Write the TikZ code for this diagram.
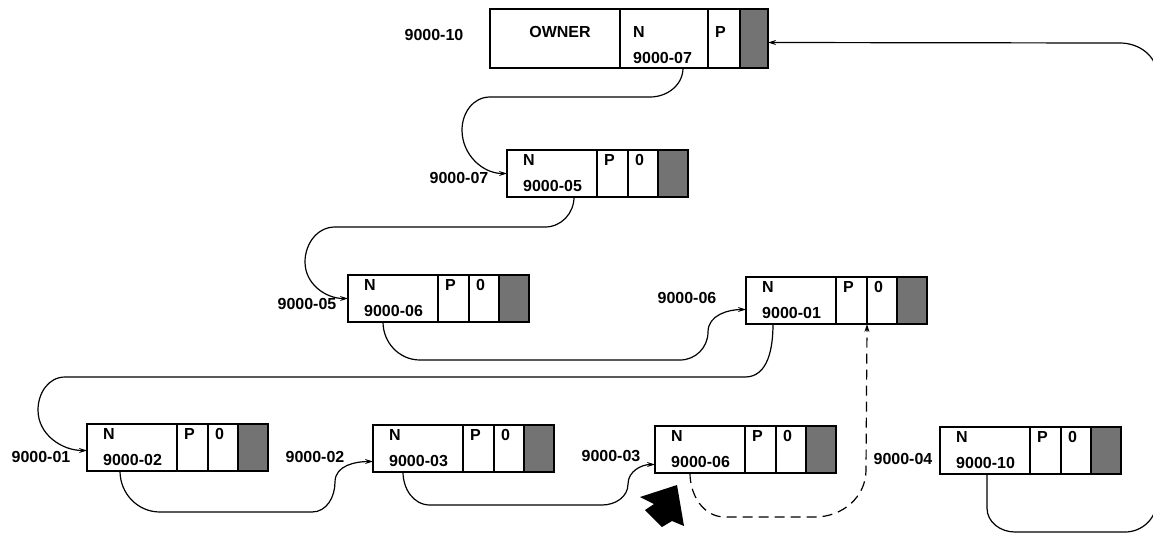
\documentclass[tikz,border=0pt]{standalone}
\usepackage{fontspec}
\setmainfont{Liberation Sans}
\usetikzlibrary{positioning,arrows.meta}

\tikzset{
  cell/.style={draw, line width=1.2pt, minimum height=47pt, inner sep=0pt, outer sep=0pt},
  ncell/.style={cell, minimum width=90pt, anchor=north west},
  pcell/.style={cell, minimum width=31pt, label={[celltext]north west:P}},
  ocell/.style={cell, minimum width=30pt, label={[celltext]north west:0}},
  scell/.style={cell, minimum width=30pt, fill=black!55},
  celltext/.style={anchor=north west, inner sep=0pt, xshift=7pt, yshift=-4pt, align=left},
  ntext/.style={celltext, xshift=9pt},
  addr/.style={inner sep=0pt},
  link/.style={line width=1.2pt, -{Stealth[length=8pt,width=5pt]}},
}

\begin{document}
\begin{tikzpicture}[x=1pt,y=-1pt,font=\fontsize{16}{26}\selectfont\bfseries]
    \useasboundingbox (0,0) rectangle (1153,539);
    \clip (0,0) rectangle (1153,539);

    % owner record
    \node[cell, minimum width=130pt, minimum height=59pt, anchor=north west,
          label={[anchor=north, inner sep=0pt, xshift=5pt, yshift=-17pt]north:OWNER}] (own) at (490,9) {};
    \node[cell, minimum width=88pt, minimum height=59pt, right=0pt of own,
          label={[celltext, xshift=6pt, yshift=-13pt]north west:{N\\9000-07}}] (r0n) {};
    \node[cell, minimum width=32pt, minimum height=59pt, right=0pt of r0n,
          label={[celltext, yshift=-13pt]north west:P}] (r0p) {};
    \node[scell, minimum width=28pt, minimum height=59pt, right=0pt of r0p] (r0s) {};

    % member records
    \node[ncell, label={[ntext]north west:{N\\9000-05}}] (r1n) at (507,150) {};
    \node[pcell, right=0pt of r1n] (r1p) {};
    \node[ocell, right=0pt of r1p] (r1o) {};
    \node[scell, right=0pt of r1o] (r1s) {};

    \node[ncell, label={[ntext]north west:{N\\9000-06}}] (r2n) at (348,275) {};
    \node[pcell, right=0pt of r2n] (r2p) {};
    \node[ocell, right=0pt of r2p] (r2o) {};
    \node[scell, right=0pt of r2o] (r2s) {};

    \node[ncell, label={[ntext]north west:{N\\9000-01}}] (r3n) at (746,277) {};
    \node[pcell, right=0pt of r3n] (r3p) {};
    \node[ocell, right=0pt of r3p] (r3o) {};
    \node[scell, right=0pt of r3o] (r3s) {};

    \node[ncell, label={[ntext]north west:{N\\9000-02}}] (r4n) at (87,424) {};
    \node[pcell, right=0pt of r4n] (r4p) {};
    \node[ocell, right=0pt of r4p] (r4o) {};
    \node[scell, right=0pt of r4o] (r4s) {};

    \node[ncell, label={[ntext]north west:{N\\9000-03}}] (r5n) at (373,425) {};
    \node[pcell, right=0pt of r5n] (r5p) {};
    \node[ocell, right=0pt of r5p] (r5o) {};
    \node[scell, right=0pt of r5o] (r5s) {};

    \node[ncell, label={[ntext]north west:{N\\9000-06}}] (r6n) at (655,426) {};
    \node[pcell, right=0pt of r6n] (r6p) {};
    \node[ocell, right=0pt of r6p] (r6o) {};
    \node[scell, right=0pt of r6o] (r6s) {};

    \node[ncell, label={[ntext]north west:{N\\9000-10}}] (r7n) at (940,427) {};
    \node[pcell, right=0pt of r7n] (r7p) {};
    \node[ocell, right=0pt of r7p] (r7o) {};
    \node[scell, right=0pt of r7o] (r7s) {};

    % db keys
    \node[addr] (k0) at (434,35) {9000-10};
    \node[addr] (k1) at (459,178) {9000-07};
    \node[addr] (k2) at (307,304) {9000-05};
    \node[addr] (k3) at (687,298) {9000-06};
    \node[addr] (k4) at (41,457) {9000-01};
    \node[addr] (k5) at (315,457) {9000-02};
    \node[addr] (k6) at (611,456) {9000-03};
    \node[addr] (k7) at (903,459) {9000-04};

    % next pointers
    \draw[link] ([xshift=19pt]r0n.south) to[out=-90,in=0] (650,97) -- (490,97)
        to[out=180,in=90] (462,130) to[out=-90,in=180] (r1n.west);
    \draw[link] ([xshift=22pt]r1n.south) to[out=-90,in=0] (545,227) -- (335,227)
        to[out=180,in=90] (305,262) to[out=-90,in=180] (r2n.west);
    \draw[link] ([xshift=-10pt]r2n.south) to[out=-90,in=180] (420,360) -- (680,360)
        to[out=0,in=-90] (708,332) to[out=90,in=180] ([yshift=-9pt]r3n.west);
    \draw[link] ([xshift=-18pt]r3n.south) to[out=-90,in=0] (745,377) -- (65,377)
        to[out=180,in=90] (38,410) to[out=-90,in=180] ([yshift=-3pt]r4n.west);
    \draw[link] ([xshift=-12pt]r4n.south) to[out=-90,in=180] (160,512) -- (312,512)
        to[out=0,in=-90] (335,482) to[out=90,in=180] ([yshift=-13pt]r5n.west);
    \draw[link] ([xshift=-15pt]r5n.south) to[out=-90,in=180] (430,505) -- (602,505)
        to[out=0,in=-90] (628,484) to[out=90,in=180] ([yshift=-15pt]r6n.west);
    \draw[link, dash pattern=on 10pt off 6pt] ([xshift=-10pt]r6n.south) to[out=-90,in=180] (725,517)
        -- (815,517) to[out=0,in=-90] (866,470) -- (r3o.south west);
    \draw[link] ([xshift=2pt]r7n.south) -- (987,508) to[out=-90,in=180] (1015,532) -- (1125,532)
        to[out=0,in=-90] (1157,500) -- (1157,75) to[out=90,in=0] (1120,43) -- ([yshift=-4pt]r0s.east);

    % current of run-unit
    \fill (677,485) -- (640,497) -- (654,504) -- (645,510) -- (662,527) -- (672,521) -- (684,526) -- cycle;
\end{tikzpicture}
\end{document}
